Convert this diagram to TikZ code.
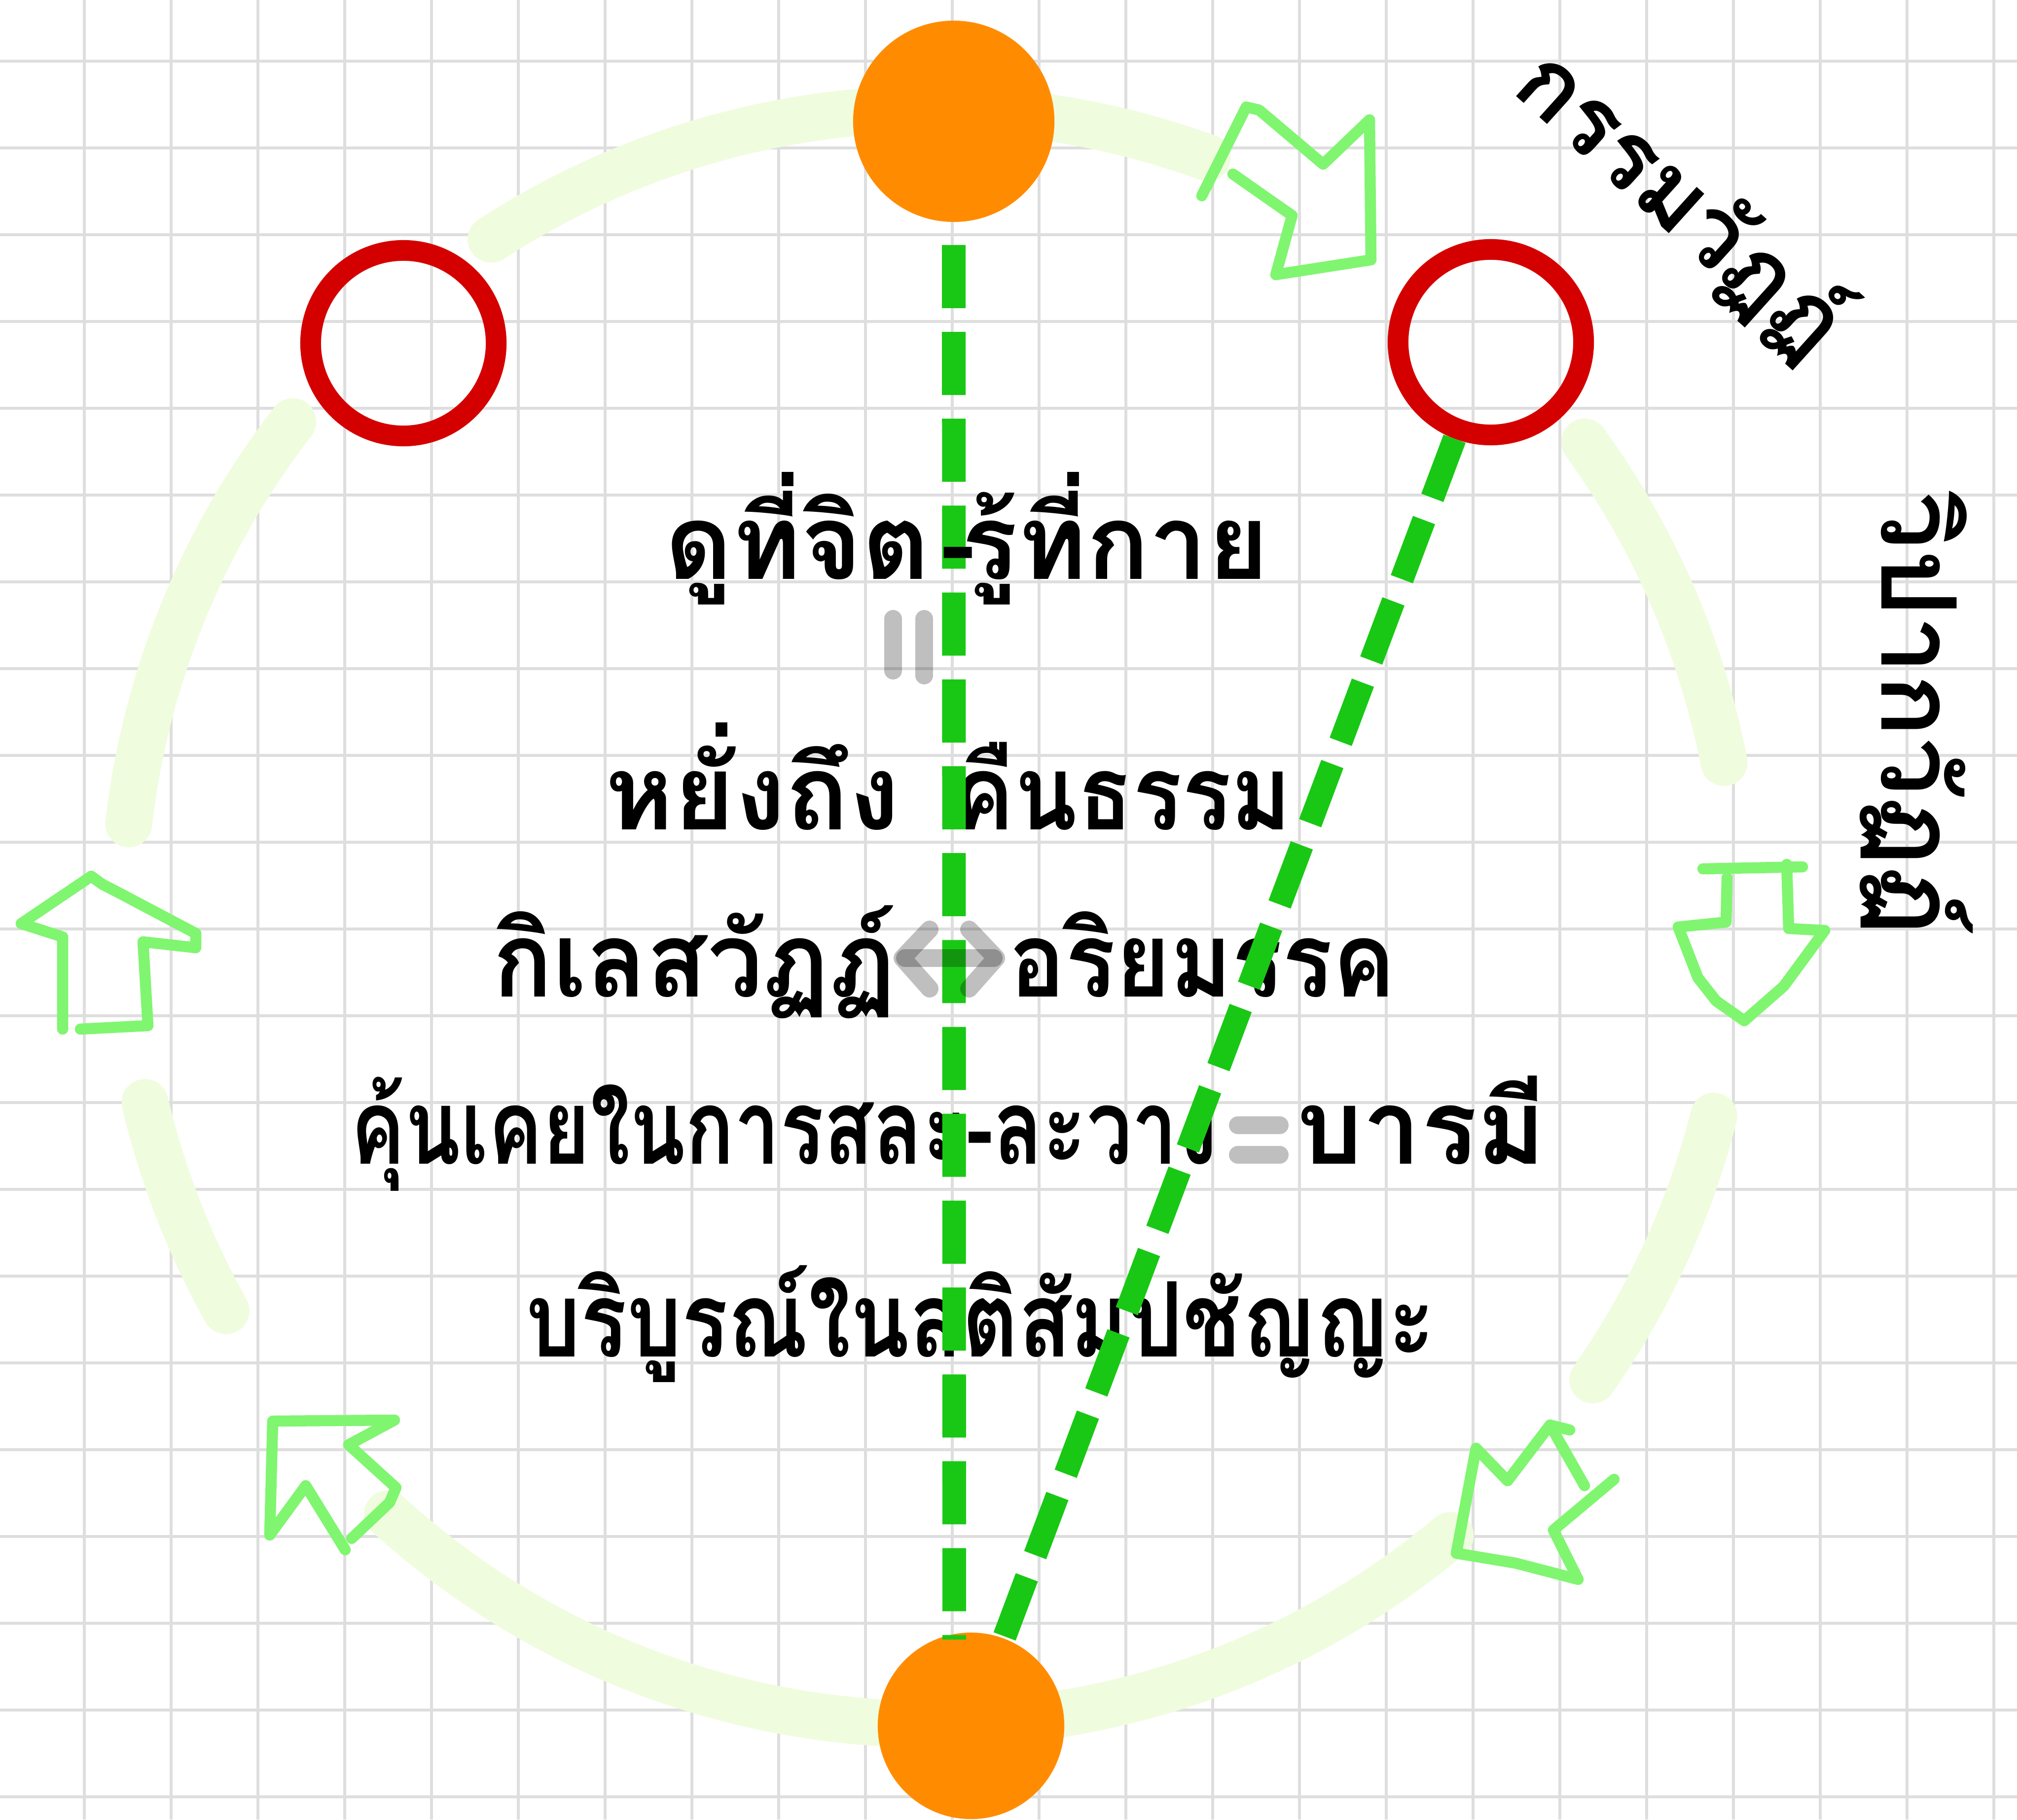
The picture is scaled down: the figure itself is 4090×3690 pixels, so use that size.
\documentclass[tikz,border=0pt]{standalone}
\usepackage{fontspec}
\newfontfamily\thaifont[Script=Thai]{Loma}
\definecolor{gridc}{RGB}{222,222,222}
\definecolor{palec}{RGB}{240,252,222}
\definecolor{arrc}{RGB}{128,245,112}
\definecolor{orangec}{RGB}{255,140,0}
\definecolor{redc}{RGB}{212,0,0}
\definecolor{greenc}{RGB}{25,200,20}
\begin{document}
\begin{tikzpicture}[x=0.01cm,y=-0.01cm,
  gridline/.style={draw=gridc,line width=1.7pt},
  palearc/.style={draw=palec,line width=27pt,line cap=round},
  arrowline/.style={draw=arrc,line width=6.4pt,line cap=round,line join=round},
  gdash/.style={draw=greenc,line width=13.6pt,dash pattern=on 36.4pt off 13.7pt},
  orangedot/.style={circle,fill=orangec,inner sep=0pt},
  redring/.style={circle,draw=redc,line width=11.95pt,inner sep=0pt,minimum size=3.76cm},
  tx/.style={font=\thaifont\bfseries\fontsize{60}{72}\selectfont,inner sep=0pt,anchor=base},
  graysym/.style={draw=black,opacity=0.25,line width=10.2pt,line cap=round,line join=round}]
\useasboundingbox (0,0) rectangle (4090,3690);
\fill[white] (0,0) rectangle (4090,3690);
% grid
\foreach \i in {0,...,23} \draw[gridline] ({171+176*\i},0) -- ({171+176*\i},3690);
\foreach \j in {0,...,20} \draw[gridline] (0,{124+176*\j}) -- (4090,{124+176*\j});
% pale cycle
\coordinate (cen) at (1888,1859);
\draw[palearc] (cen) ++(-70:1638) arc[start angle=-70,end angle=-123,radius=1638];
\draw[palearc] (cen) ++(-11:1638) arc[start angle=-11,end angle=-36,radius=1638];
\draw[palearc] (cen) ++(14.3:1638) arc[start angle=14.3,end angle=35,radius=1638];
\draw[palearc] (cen) ++(50:1638) arc[start angle=50,end angle=132.3,radius=1638];
\draw[palearc] (cen) ++(150.8:1638) arc[start angle=150.8,end angle=166.7,radius=1638];
\draw[palearc] (cen) ++(-173.4:1638) arc[start angle=-173.4,end angle=-142.2,radius=1638];
% hand-drawn arrows
\draw[arrowline] (127,2087) -- (127,1900) -- (43,1873) -- (185,1777) -- (207,1793) -- (240,1810) -- (397,1893) -- (397,1922) -- (290,1910) -- (300,2080) -- (163,2087);
\draw[arrowline] (3453,1762) -- (3655,1758);
\draw[arrowline] (3502,1780) -- (3500,1870) -- (3403,1880) -- (3443,1983) -- (3480,2030) -- (3537,2070) -- (3617,2000) -- (3700,1887) -- (3627,1883) -- (3623,1753);
\draw[arrowline] (2437,397) -- (2527,217) -- (2553,223) -- (2683,333) -- (2777,243) -- (2780,527) -- (2587,557) -- (2620,437) -- (2500,353);
\draw[arrowline] (3213,3013) -- (3143,2890) -- (3057,3003) -- (2993,2937) -- (2953,3150) -- (3073,3170) -- (3200,3203) -- (3150,3103) -- (3273,3000);
\draw[arrowline] (3143,2890) -- (3183,2900);
\draw[arrowline] (713,3120) -- (790,3047) -- (803,3017) -- (707,2930) -- (800,2880) -- (553,2882) -- (547,3113) -- (620,3013) -- (700,3143);
% circles
\node[orangedot,minimum size=4.08cm] (topO) at (1934,246) {};
\node[orangedot,minimum size=3.78cm] (botO) at (1969,3500) {};
\node[redring] (ringL) at (818,696) {};
\node[redring] (ringR) at (3023,694) {};
% texts
\node[tx] (t1a) at (1617,1174) {ดูที่จิต};
\node[tx] (t1b) at (2262,1174) {รู้ที่กาย};
\node[tx] (t2a) at (1526,1682) {หยั่งถึง};
\node[tx] (t2b) at (2276,1682) {\scalebox{0.88}[1]{คืนธรรม}};
\node[tx] (t3a) at (1408,2021) {\scalebox{0.95}[1]{กิเลสวัฏฏ์}};
\node[tx] (t3b) at (2438,2021) {\scalebox{0.9}[1]{อริยมรรค}};
\node[tx] (t4a) at (1590,2360) {\scalebox{0.78}[1]{คุ้นเคยในการสละ-ละวาง}};
\node[tx] (t4b) at (2882,2360) {บารมี};
\node[tx] (t5) at (1988,2751) {\scalebox{0.83}[1]{บริบูรณ์ในสติสัมปชัญญะ}};
\node[tx,anchor=center,rotate=-42,font=\thaifont\bfseries\fontsize{55}{66}\selectfont] (kam) at (3410,410) {กรรมวัฏฏ์};
\node[tx,anchor=center,rotate=-90] (wip) at (3886,1447) {วิปากวัฏฏ์};
% green dashed connectors
\coordinate (vEnd) at (1935,3325);
\draw[gdash,shorten <=0.46cm] (topO.south) -- (vEnd);
\draw[gdash,shorten >=-0.09cm] (ringR) -- (botO);
\node[tx] (t1h) at (1943,1174) {-};
% gray symbols
\draw[graysym] (1811,1255) -- (1811,1360);
\draw[graysym] (1874,1255) -- (1874,1370);
\draw[graysym] (1835,1943) -- (2015,1943);
\draw[graysym] (1885,1885) -- (1830,1943) -- (1885,2005);
\draw[graysym] (1965,1885) -- (2020,1943) -- (1965,2005);
\draw[graysym] (2510,2282) -- (2595,2282);
\draw[graysym] (2510,2342) -- (2595,2342);
\end{tikzpicture}
\end{document}
